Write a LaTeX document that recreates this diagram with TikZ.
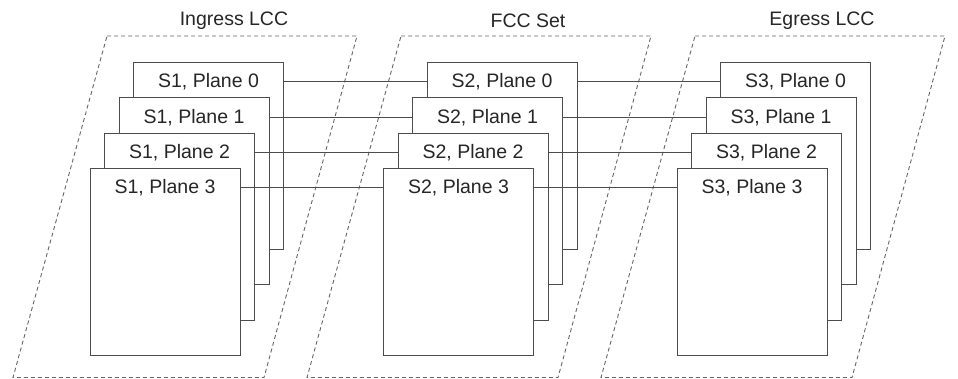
\documentclass[tikz,border=0pt]{standalone}
\usepackage{fontspec}
\setmainfont{Liberation Sans}
\usetikzlibrary{calc}
\begin{document}
\begin{tikzpicture}[x=1pt,y=-1pt,
  planebox/.style={draw=black!70, fill=white, line width=1pt, minimum width=150pt, minimum height=187pt, inner sep=0pt, anchor=north west},
  planelabel/.style={font=\fontsize{19.5}{22}\selectfont, text=black!85, inner sep=0pt},
  grouptitle/.style={font=\fontsize{19.5}{22}\selectfont, text=black!85, inner sep=0pt},
  groupframe/.style={draw=black!60, line width=0.9pt, dash pattern=on 4pt off 3pt},
  link/.style={draw=black!70, line width=1pt}]
\useasboundingbox (0,0) rectangle (958,379);
% dashed parallelograms
\foreach \g in {0,1,2} {
  \draw[groupframe] ({107+294*\g},36) -- ({357+294*\g},36) -- ({264+294*\g},377.5) -- ({13+294*\g},377.5) -- cycle;
}
\node[grouptitle] (ti) at (234,21) {Ingress LCC};
\node[grouptitle] (tf) at (528,21) {FCC Set};
\node[grouptitle] (te) at (822,21) {Egress LCC};
% boxes
\foreach \g in {1,2,3} {
  \foreach \k in {0,1,2,3} {
    \node[planebox] (b\g\k) at ({133-14.5*\k+293.5*(\g-1)},{62+35.3*\k}) {};
    \node[planelabel] (t\g\k) at ($(b\g\k.north)+(0,20)$) {S\g, Plane \k};
  }
}
% links
\foreach \k in {0,1,2,3} {
  \draw[link] (b1\k.east |- t1\k) -- (b2\k.west |- t1\k);
  \draw[link] (b2\k.east |- t2\k) -- (b3\k.west |- t2\k);
}
\end{tikzpicture}
\end{document}
